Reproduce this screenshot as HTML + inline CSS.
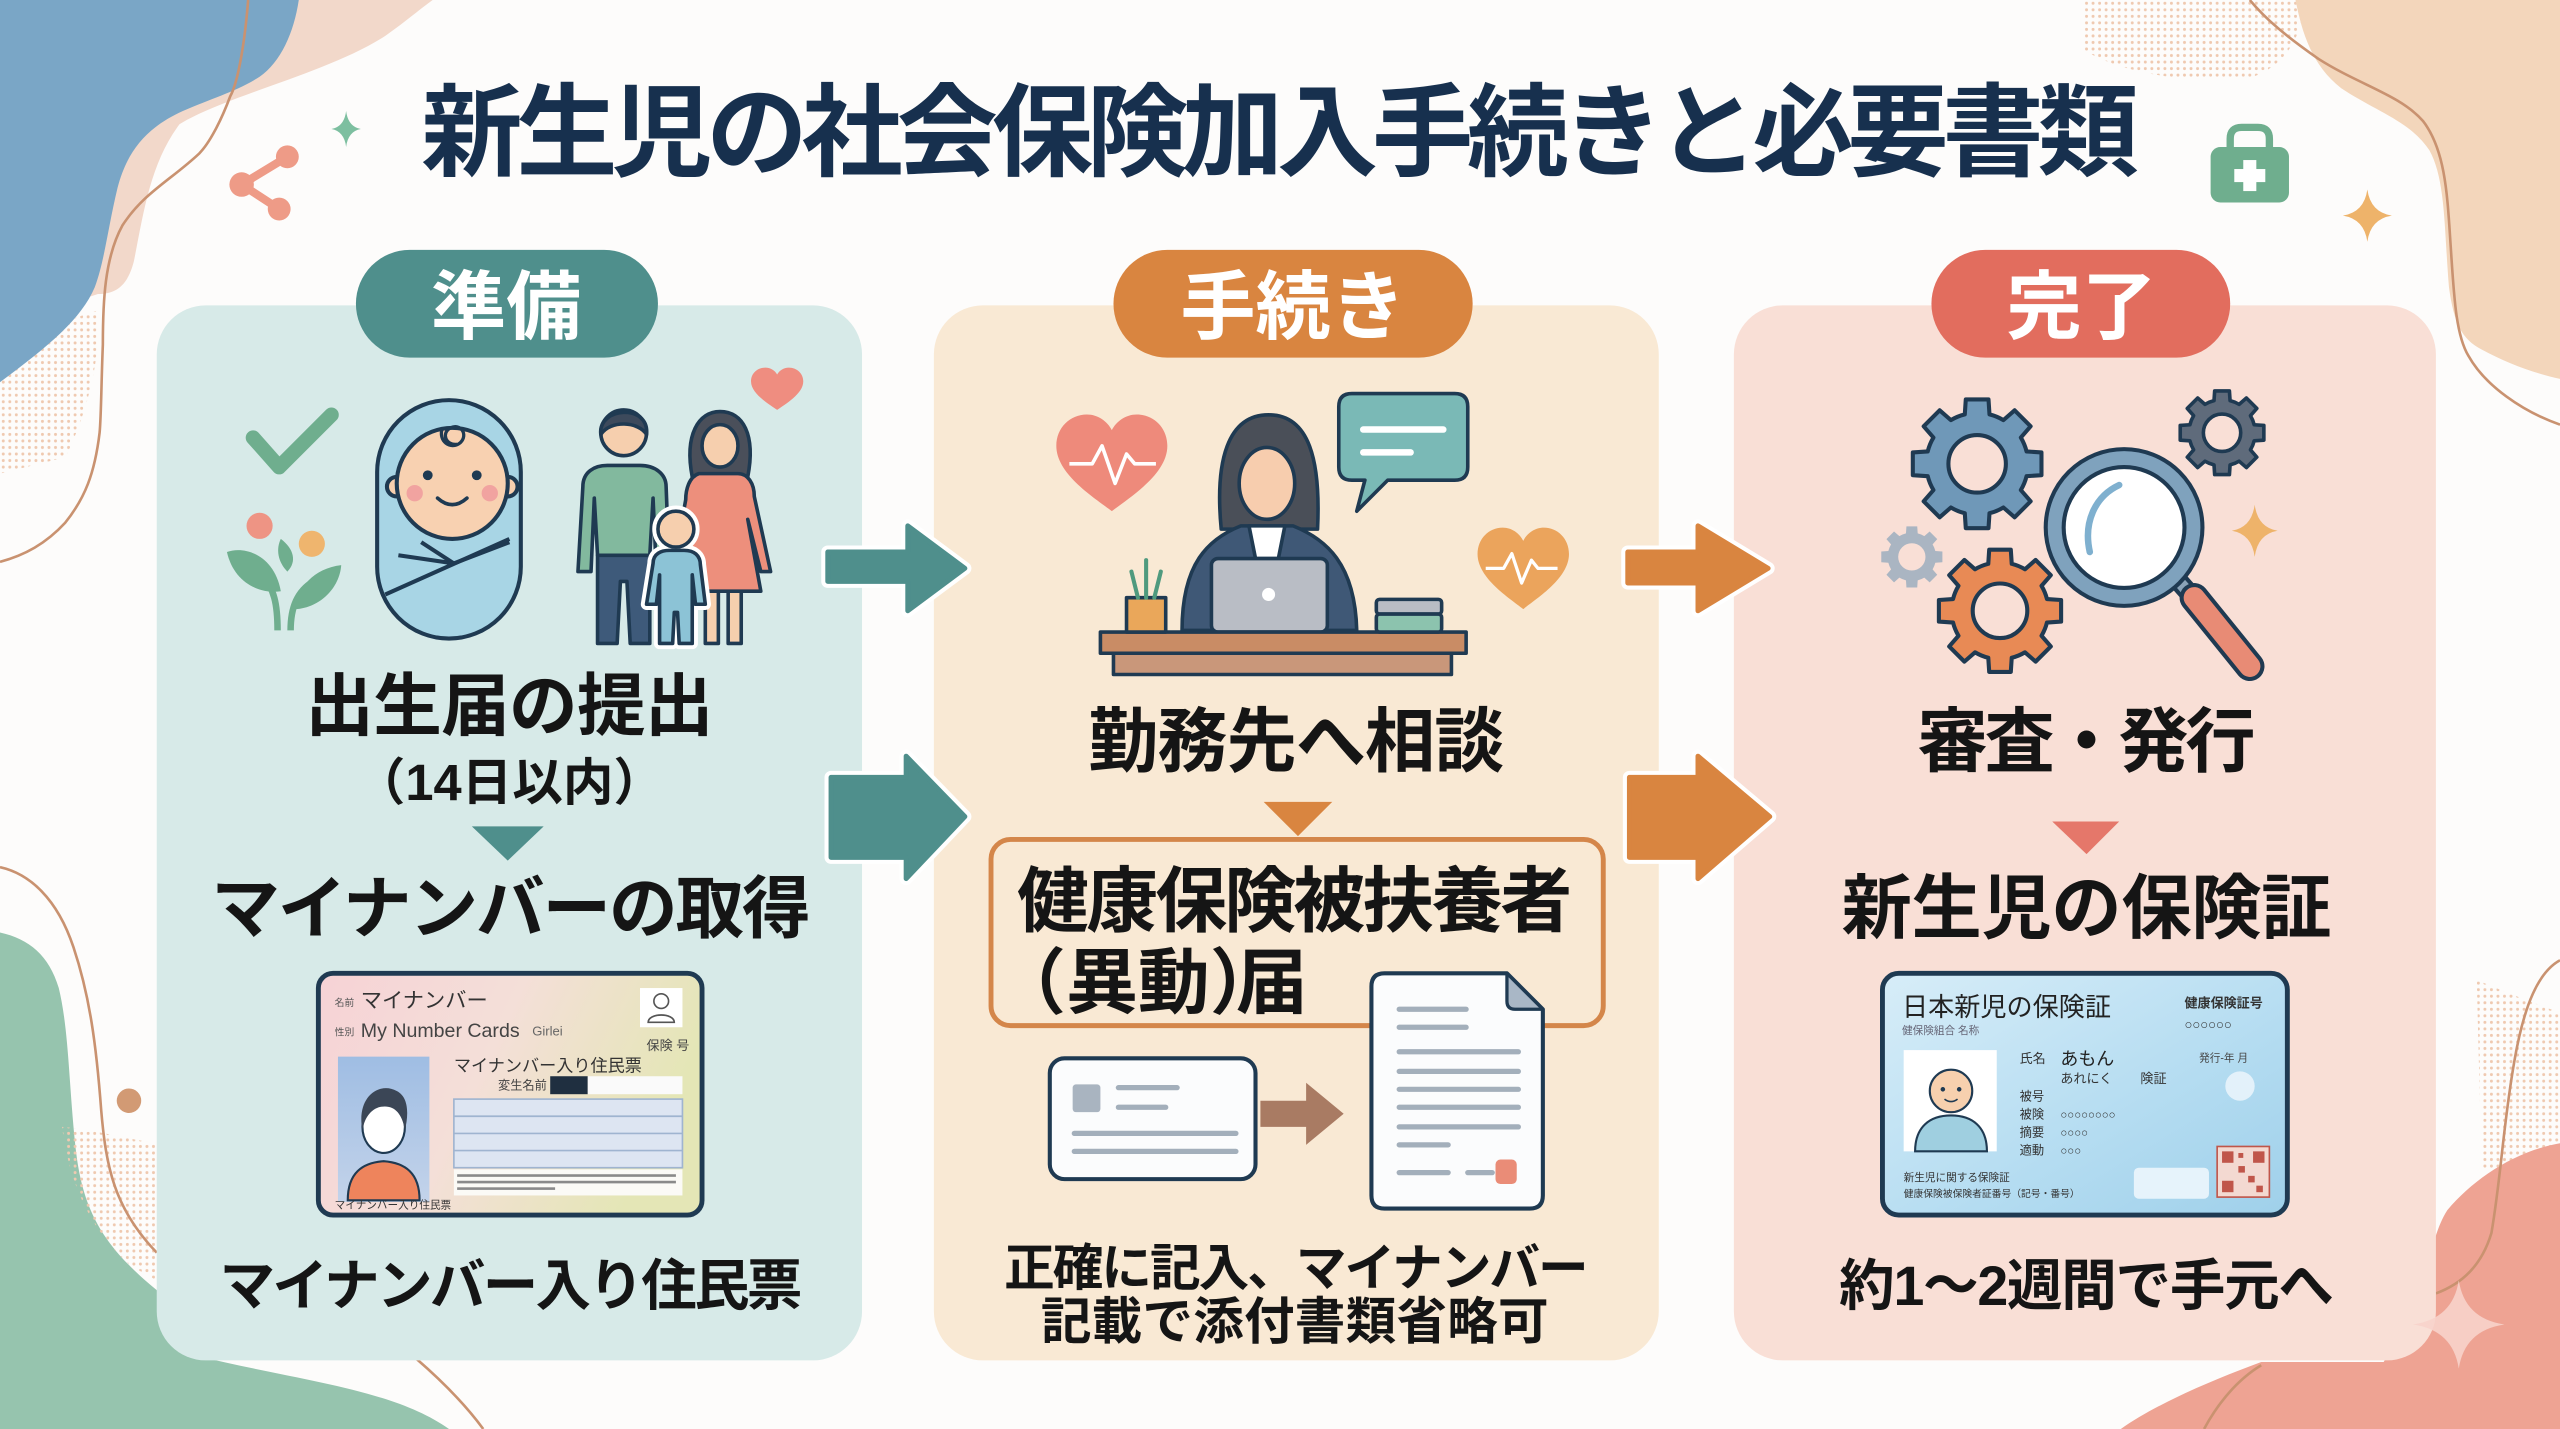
<!DOCTYPE html>
<html lang="ja">
<head>
<meta charset="utf-8">
<style>
html,body{margin:0;padding:0;background:#fdfcfb;}
svg{display:block;}
text{font-family:"Liberation Sans","Noto Sans CJK JP",sans-serif;}
.b{font-weight:700;fill:#151515;}
</style>
</head>
<body>
<svg width="2560" height="1429" viewBox="0 0 1568 875" preserveAspectRatio="none" xmlns="http://www.w3.org/2000/svg">
<defs>
  <pattern id="dots" width="4" height="4" patternUnits="userSpaceOnUse">
    <circle cx="2" cy="2" r="0.9" fill="#efc9b0"/>
  </pattern>
  <linearGradient id="mn" x1="0" y1="0" x2="1" y2="0.3">
    <stop offset="0" stop-color="#f6d2d6"/>
    <stop offset="0.5" stop-color="#f4dfd8"/>
    <stop offset="1" stop-color="#e4e6b6"/>
  </linearGradient>
  <linearGradient id="ph" x1="0" y1="0" x2="0" y2="1">
    <stop offset="0" stop-color="#9fbde3"/>
    <stop offset="1" stop-color="#c3d3ea"/>
  </linearGradient>
  <linearGradient id="hc" x1="0" y1="0" x2="1" y2="1">
    <stop offset="0" stop-color="#d7edf8"/>
    <stop offset="0.6" stop-color="#b4dcf1"/>
    <stop offset="1" stop-color="#9fd0ea"/>
  </linearGradient>
  <path id="gear" fill-rule="evenodd" d="M.757,-.189 L.985,-.174 L.985,.174 L.757,.189 A.78,.78 0 0 1 .669,.402 L.819,.574 L.574,.819 L.402,.669 A.78,.78 0 0 1 .189,.757 L.174,.985 L-.174,.985 L-.189,.757 A.78,.78 0 0 1 -.402,.669 L-.574,.819 L-.819,.574 L-.669,.402 A.78,.78 0 0 1 -.757,.189 L-.985,.174 L-.985,-.174 L-.757,-.189 A.78,.78 0 0 1 -.669,-.402 L-.819,-.574 L-.574,-.819 L-.402,-.669 A.78,.78 0 0 1 -.189,-.757 L-.174,-.985 L.174,-.985 L.189,-.757 A.78,.78 0 0 1 .402,-.669 L.574,-.819 L.819,-.574 L.669,-.402 A.78,.78 0 0 1 .757,-.189 Z M.44,0 A.44,.44 0 1 0 -.44,0 A.44,.44 0 1 0 .44,0 Z"/>
  <path id="heart" d="M0,1 C-0.3,0.75 -1,0.3 -1,-0.25 C-1,-0.6 -0.75,-0.85 -0.45,-0.85 C-0.25,-0.85 -0.08,-0.72 0,-0.55 C0.08,-0.72 0.25,-0.85 0.45,-0.85 C0.75,-0.85 1,-0.6 1,-0.25 C1,0.3 0.3,0.75 0,1 Z"/>
  <path id="spark" d="M0,-1 Q0.13,-0.13 1,0 Q0.13,0.13 0,1 Q-0.13,0.13 -1,0 Q-0.13,-0.13 0,-1 Z"/>
</defs>

<!-- background -->
<rect x="0" y="0" width="1568" height="875" fill="#fdfcfb"/>

<!-- top-left decoration -->
<path d="M0,200 L60,180 C70,180 78,176 82,160 C88,130 92,100 110,76 C140,58 200,45 236,22 C250,12 258,5 265,0 L0,0 Z" fill="#f2d8ca"/>
<path d="M0,210 L60,190 C62,215 55,250 40,280 L0,290 Z" fill="url(#dots)"/>
<path d="M0,0 H183 C180,20 172,38 159,47 C145,56 130,60 112,68 C90,78 78,92 72,115 C66,140 64,160 58,176 C50,195 30,212 0,234 Z" fill="#7aa6c6"/>
<path d="M152,0 C150,25 146,50 141,59 C135,75 128,88 122,94 C105,110 88,118 75,138 C64,158 63,185 63,211 C62,235 62,255 61,265 C58,290 52,305 40,320 C28,333 15,340 0,344" fill="none" stroke="#c99270" stroke-width="1.6"/>

<!-- top-right decoration -->
<path d="M1275,0 H1410 C1412,20 1400,40 1380,47 C1340,52 1300,45 1275,30 Z" fill="url(#dots)"/>
<path d="M1406,0 C1410,20 1416,40 1434,54 C1455,68 1476,74 1488,92 C1498,110 1497,140 1500,176 C1503,198 1508,208 1520,214 C1535,222 1550,228 1568,232 V0 Z" fill="#f3d6bb"/>
<path d="M1378,0 C1388,12 1400,22 1420,36 C1445,52 1470,58 1484,74 C1498,92 1499,120 1501,150 C1503,180 1504,205 1512,218 C1522,236 1545,252 1568,260" fill="none" stroke="#c99270" stroke-width="1.6"/>

<!-- bottom-left decoration -->
<path d="M0,571 C18,575 30,585 36,605 C42,630 42,660 46,700 C50,740 62,762 96,790 L120,830 C180,845 240,850 275,875 L0,875 Z" fill="#96c4ae"/>
<path d="M38,690 C42,720 52,750 80,775 L96,784 L96,700 C80,698 60,692 38,690 Z" fill="url(#dots)"/>
<path d="M0,531 C18,535 35,550 45,580 C55,610 59,640 62,680 C65,715 70,740 96,767" fill="none" stroke="#c99270" stroke-width="1.6"/>
<path d="M255,832 C270,845 285,860 296,875" fill="none" stroke="#c99270" stroke-width="1.6"/>
<circle cx="79" cy="674" r="7.5" fill="#d29a74"/>

<!-- bottom-right decoration -->
<path d="M1517,600 C1540,610 1568,620 1568,620 V716 L1520,716 Z" fill="url(#dots)"/>
<path d="M1568,700 C1540,705 1515,722 1499,741 C1490,755 1488,775 1480,800 L1460,834 C1420,834 1390,834 1385,834 C1355,845 1320,860 1299,875 H1568 Z" fill="#eea393"/>
<path d="M1568,588 C1555,595 1546,615 1540,650 C1533,690 1532,720 1526,755 C1520,775 1508,786 1492,792" fill="none" stroke="#c99270" stroke-width="1.6"/>
<path d="M1385,836 C1370,845 1358,860 1350,875" fill="none" stroke="#c99270" stroke-width="1.6"/>

<!-- small title decorations -->
<use href="#spark" transform="translate(212,79) scale(9,11)" fill="#7dbfa0"/>
<g stroke="#ee9b87" stroke-width="5" fill="#ee9b87">
  <line x1="176" y1="96" x2="148" y2="113"/>
  <line x1="148" y1="113" x2="171" y2="128"/>
  <circle cx="176" cy="96" r="7" stroke="none"/>
  <circle cx="148" cy="113" r="7.5" stroke="none"/>
  <circle cx="171" cy="128" r="7" stroke="none"/>
</g>
<path d="M1366,92 V85 Q1366,78 1373,78 H1383 Q1390,78 1390,85 V92" fill="none" stroke="#6fae8e" stroke-width="4.5"/>
<rect x="1354" y="90" width="48" height="34" rx="6" fill="#6fae8e"/>
<rect x="1374" y="98" width="8" height="19" fill="#fff"/>
<rect x="1368.5" y="103.5" width="19" height="8" fill="#fff"/>
<use href="#spark" transform="translate(1450,132) scale(15,16)" fill="#eeb36a"/>

<!-- Title -->
<text x="784" y="103" text-anchor="middle" font-size="62" font-weight="700" fill="#17304e" textLength="1052">新生児の社会保険加入手続きと必要書類</text>

<!-- Panels -->
<rect x="96" y="187" width="432" height="646" rx="30" fill="#d7eae8"/>
<rect x="572" y="187" width="444" height="646" rx="30" fill="#f9e9d4"/>
<rect x="1062" y="187" width="430" height="646" rx="30" fill="#f9dfd6"/>

<!-- Pills -->
<rect x="218" y="153" width="185" height="66" rx="33" fill="#4f8f8c"/>
<text x="310" y="204" text-anchor="middle" font-size="46" font-weight="700" fill="#fff">準備</text>
<rect x="682" y="153" width="220" height="66" rx="33" fill="#d98540"/>
<text x="792" y="204" text-anchor="middle" font-size="46" font-weight="700" fill="#fff">手続き</text>
<rect x="1183" y="153" width="183" height="66" rx="33" fill="#e26d5e"/>
<text x="1275" y="204" text-anchor="middle" font-size="46" font-weight="700" fill="#fff">完了</text>

<!-- ===== Panel 1 icons ===== -->
<polyline points="155,268 171,286 203,254" fill="none" stroke="#6fae8e" stroke-width="9" stroke-linecap="round" stroke-linejoin="round"/>
<circle cx="159" cy="322" r="8" fill="#ee9484"/>
<circle cx="191" cy="333" r="8" fill="#efb56e"/>
<g fill="#6fae8e">
  <path d="M170,386 C170,370 168,360 160,352" fill="none" stroke="#6fae8e" stroke-width="4"/>
  <path d="M178,386 C178,372 182,362 192,356" fill="none" stroke="#6fae8e" stroke-width="4"/>
  <path d="M139,338 C150,334 168,340 172,362 C158,364 143,356 139,338 Z"/>
  <path d="M209,346 C208,360 196,372 181,373 C182,360 192,348 209,346 Z"/>
  <path d="M172,330 C180,336 182,344 176,350 C170,344 169,336 172,330 Z"/>
</g>
<!-- baby -->
<g stroke="#1f3a52" stroke-width="2.5">
  <rect x="231" y="245" width="88" height="146" rx="44" fill="#a8d5e5"/>
  <circle cx="243" cy="298" r="6" fill="#f7cfae"/>
  <circle cx="311" cy="298" r="6" fill="#f7cfae"/>
  <circle cx="277" cy="296" r="34" fill="#f8d1b1"/>
  <path d="M244,340 L278,345 L312,332" fill="none"/>
  <path d="M236,364 L312,330" fill="none"/>
  <path d="M258,332 L278,345" fill="none"/>
  <path d="M280,272 C273,273 270,265 276,262 C282,259 287,266 282,271 C276,276 268,270 271,262" fill="none" stroke-width="2"/>
  <path d="M268,305 Q277,313 286,305" fill="none" stroke-width="2.2" stroke-linecap="round"/>
</g>
<circle cx="262" cy="291" r="3" fill="#1f3a52"/>
<circle cx="292" cy="291" r="3" fill="#1f3a52"/>
<circle cx="254" cy="302" r="5" fill="#f1a3a0"/>
<circle cx="300" cy="302" r="5" fill="#f1a3a0"/>
<!-- family -->
<g stroke="#1f3a52" stroke-width="2.2" stroke-linejoin="round">
  <path d="M357,298 C357,289 364,285 372,285 L392,285 C401,285 408,290 408,298 L410,350 L402,350 L400,305 L398,340 L366,340 L364,305 L362,350 L354,350 Z" fill="#82b99e"/>
  <path d="M366,340 L398,340 L398,394 L386,394 L384,356 L380,356 L378,394 L366,394 Z" fill="#3e5a7a"/>
  <circle cx="382" cy="265" r="14" fill="#f6cfae"/>
  <path d="M368,266 C366,249 398,247 396,266 C391,258 374,257 368,266 Z" fill="#3d4a5c"/>
  <path d="M424,292 C419,266 428,252 441,252 C455,252 463,266 458,292 Z" fill="#4a4f5a"/>
  <ellipse cx="441" cy="273" rx="11" ry="13" fill="#f6cfae"/>
  <rect x="432" y="360" width="8" height="34" fill="#f6cfae"/>
  <rect x="446" y="360" width="8" height="34" fill="#f6cfae"/>
  <path d="M428,290 C422,292 420,300 420,306 L412,350 L418,350 L424,318 L418,362 L466,362 L458,318 L466,350 L472,350 L462,304 C462,296 458,290 452,290 Z" fill="#ed8f7c"/>
  <g>
    <path d="M400,345 C400,339 405,337 410,337 L419,337 C425,337 429,340 429,346 L432,370 L426,370 L424,352 L424,394 L416,394 L415,375 L413,375 L412,394 L404,394 L404,352 L402,370 L396,370 Z" fill="#fff" stroke="#fff" stroke-width="7"/>
    <circle cx="414" cy="324" r="11" fill="#fff" stroke="#fff" stroke-width="7"/>
    <path d="M400,345 C400,339 405,337 410,337 L419,337 C425,337 429,340 429,346 L432,370 L426,370 L424,352 L424,394 L416,394 L415,375 L413,375 L412,394 L404,394 L404,352 L402,370 L396,370 Z" fill="#8cc3d6"/>
    <circle cx="414" cy="324" r="11" fill="#f6cfae"/>
  </g>
</g>
<use href="#heart" transform="translate(476,237) scale(16,14)" fill="#ef8d80"/>

<!-- Panel 1 texts -->
<text class="b" x="312" y="447" text-anchor="middle" font-size="42" textLength="250">出生届の提出</text>
<text class="b" x="312" y="490" text-anchor="middle" font-size="31">（14日以内）</text>
<polygon points="289,506 333,506 311,527" fill="#4f8f8c"/>
<text class="b" x="313" y="571" text-anchor="middle" font-size="42" textLength="367">マイナンバーの取得</text>

<!-- My number card -->
<rect x="195" y="596" width="235" height="148" rx="9" fill="url(#mn)" stroke="#1f3a52" stroke-width="3"/>
<text x="205" y="616" font-size="6" fill="#555">名前</text>
<text x="221" y="617" font-size="13" fill="#333">マイナンバー</text>
<text x="205" y="634" font-size="6" fill="#555">性別</text>
<text x="221" y="635" font-size="12" fill="#444" font-family="Liberation Serif, serif">My Number Cards</text>
<text x="326" y="634" font-size="8" fill="#666" font-family="Liberation Serif, serif">Girlei</text>
<rect x="392" y="605" width="26" height="24" fill="#fff"/>
<circle cx="405" cy="613" r="4.5" fill="none" stroke="#555" stroke-width="1"/>
<path d="M397,626 C397,620 413,620 413,626 Z" fill="none" stroke="#555" stroke-width="1"/>
<text x="396" y="643" font-size="8" fill="#444">保険 号</text>
<text x="278" y="656" font-size="10.5" fill="#333">マイナンバー入り住民票</text>
<text x="305" y="667" font-size="7.5" fill="#444">変生名前</text>
<rect x="337" y="659" width="23" height="11" fill="#1f2f40"/>
<rect x="360" y="659" width="58" height="11" fill="#fafafa"/>
<rect x="207" y="647" width="56" height="89" fill="url(#ph)"/>
<path d="M213,735 C213,718 222,712 235,711 C248,712 257,718 257,735 Z" fill="#ee845c" stroke="#1f3a52" stroke-width="1.3"/>
<ellipse cx="235" cy="690" rx="13" ry="16" fill="#fff" stroke="#1f3a52" stroke-width="1.3"/>
<path d="M222,692 C218,672 232,662 243,668 C251,672 250,684 248,692 C246,680 240,676 232,678 C226,680 223,686 222,692 Z" fill="#3b4656"/>
<rect x="278" y="673" width="140" height="42" fill="#dde5f2" stroke="#9fb4d0" stroke-width="1"/>
<line x1="278" y1="683.5" x2="418" y2="683.5" stroke="#9fb4d0" stroke-width="1"/>
<line x1="278" y1="694" x2="418" y2="694" stroke="#9fb4d0" stroke-width="1"/>
<line x1="278" y1="704.5" x2="418" y2="704.5" stroke="#9fb4d0" stroke-width="1"/>
<rect x="278" y="716" width="140" height="16" fill="#fbfaf6"/>
<rect x="280" y="719" width="134" height="1.6" fill="#8a8a8a"/>
<rect x="280" y="723" width="134" height="1.6" fill="#8a8a8a"/>
<rect x="280" y="727" width="60" height="1.6" fill="#8a8a8a"/>
<text x="205" y="740" font-size="6.5" fill="#333">マイナンバー入り住民票</text>

<text class="b" x="313" y="799" text-anchor="middle" font-size="34" textLength="357">マイナンバー入り住民票</text>

<!-- ===== Panel 2 icons ===== -->
<use href="#heart" transform="translate(681,281) scale(34,32)" fill="#ee8a7b"/>
<polyline points="655,284 669,284 675,273 683,296 690,278 695,284 708,284" fill="none" stroke="#fff" stroke-width="2.2" stroke-linejoin="round"/>
<use href="#heart" transform="translate(933,346) scale(28,27)" fill="#eba45c"/>
<polyline points="910,348 921,348 926,339 932,357 938,343 942,348 954,348" fill="none" stroke="#fff" stroke-width="2" stroke-linejoin="round"/>
<g stroke="#1f3a52" stroke-width="2.2" stroke-linejoin="round">
  <path d="M820,249 Q820,241 828,241 H891 Q899,241 899,249 V286 Q899,294 891,294 H850 L831,313 L836,294 H828 Q820,294 820,286 Z" fill="#7ab9b6"/>
  <path d="M748,324 C744,282 752,254 777,254 C802,254 809,282 807,324 Z" fill="#4a4f58"/>
  <ellipse cx="776" cy="296" rx="17" ry="22" fill="#f7cdae"/>
  <path d="M724,386 C724,345 740,330 760,322 L792,322 C812,330 830,345 831,386 Z" fill="#3f5876"/>
  <path d="M765,322 L787,322 L783,342 L769,342 Z" fill="#fff"/>
  <rect x="742" y="342" width="71" height="45" rx="4" fill="#b9bdc5"/>
  <rect x="674" y="387" width="224" height="13" fill="#c98c65"/>
  <rect x="682" y="400" width="207" height="13" fill="#c9977a"/>
  <rect x="690" y="366" width="24" height="21" fill="#eaa75a"/>
  <rect x="843" y="367" width="40" height="9" rx="2" fill="#b9bcc4"/>
  <rect x="843" y="376" width="40" height="11" rx="2" fill="#8cc3ae"/>
</g>
<circle cx="777" cy="364" r="4" fill="#fff"/>
<line x1="835" y1="263" x2="884" y2="263" stroke="#fff" stroke-width="4" stroke-linecap="round"/>
<line x1="835" y1="277" x2="864" y2="277" stroke="#fff" stroke-width="4" stroke-linecap="round"/>
<g stroke="#4f9a7e" stroke-width="2.5" stroke-linecap="round">
  <line x1="702" y1="366" x2="702" y2="343"/>
  <line x1="697" y1="366" x2="693" y2="350"/>
  <line x1="707" y1="366" x2="711" y2="350"/>
</g>

<text class="b" x="794" y="469" text-anchor="middle" font-size="43" textLength="255">勤務先へ相談</text>
<polygon points="774,491 816,491 795,512" fill="#d98540"/>
<rect x="607" y="514" width="375" height="114" rx="12" fill="none" stroke="#d4864a" stroke-width="3"/>
<text class="b" x="623" y="567" font-size="44" textLength="340">健康保険被扶養者</text>
<text class="b" x="609" y="617" font-size="44">（異動）</text>
<text class="b" x="757" y="617" font-size="44">届</text>

<!-- document -->
<path d="M840,604 Q840,596 848,596 H923 L945,618 V732 Q945,740 937,740 H848 Q840,740 840,732 Z" fill="#fbfcfd" stroke="#1f3a52" stroke-width="2.5" stroke-linejoin="round"/>
<path d="M923,596 V613 Q923,618 928,618 H945 Z" fill="#a9b7c6" stroke="#1f3a52" stroke-width="2" stroke-linejoin="round"/>
<g stroke="#a3afbb" stroke-width="3.2" stroke-linecap="round">
  <line x1="857" y1="618" x2="898" y2="618"/>
  <line x1="857" y1="629" x2="898" y2="629"/>
  <line x1="857" y1="644" x2="930" y2="644"/>
  <line x1="857" y1="656" x2="930" y2="656"/>
  <line x1="857" y1="667" x2="930" y2="667"/>
  <line x1="857" y1="678" x2="930" y2="678"/>
  <line x1="857" y1="690" x2="930" y2="690"/>
  <line x1="857" y1="701" x2="887" y2="701"/>
  <line x1="857" y1="718" x2="887" y2="718"/>
  <line x1="899" y1="718" x2="914" y2="718"/>
</g>
<rect x="916" y="710" width="13" height="15" rx="3" fill="#ea8c77"/>
<!-- small card + arrow -->
<rect x="643" y="648" width="126" height="74" rx="9" fill="#fbfcfd" stroke="#1f3a52" stroke-width="2.5"/>
<rect x="657" y="664" width="17" height="17" rx="2" fill="#a9b4c0"/>
<g stroke="#a3afbb" stroke-width="3.2" stroke-linecap="round">
  <line x1="685" y1="666" x2="721" y2="666"/>
  <line x1="685" y1="678" x2="714" y2="678"/>
  <line x1="658" y1="694" x2="757" y2="694"/>
  <line x1="658" y1="705" x2="757" y2="705"/>
</g>
<path d="M772,674 H800 V663 L823,682 L800,701 V690 H772 Z" fill="#a97b63"/>

<text class="b" x="794" y="787" text-anchor="middle" font-size="31" textLength="358">正確に記入、マイナンバー</text>
<text class="b" x="793" y="820" text-anchor="middle" font-size="31" textLength="311">記載で添付書類省略可</text>

<!-- ===== Panel 3 icons ===== -->
<use href="#gear" transform="translate(1211,284) scale(40)" fill="#6f98b8" stroke="#1f3a52" stroke-width="0.0625" stroke-linejoin="round"/>
<use href="#gear" transform="translate(1361,265) scale(26)" fill="#5f6b7b" stroke="#1f3a52" stroke-width="0.085" stroke-linejoin="round"/>
<use href="#gear" transform="translate(1171,341) scale(19)" fill="#aab5c2"/>
<use href="#gear" transform="translate(1225,374) scale(38)" fill="#e88a55" stroke="#1f3a52" stroke-width="0.066" stroke-linejoin="round"/>
<g stroke="#1f3a52" stroke-width="2.5">
  <path d="M1331,352 L1346,369" stroke-width="12" stroke="#1f3a52"/>
  <path d="M1331,352 L1346,369" stroke-width="7" stroke="#8aa3b8"/>
  <path d="M1344,366 L1378,408" stroke-width="18" stroke-linecap="round" stroke="#1f3a52"/>
  <path d="M1344,366 L1378,408" stroke-width="13" stroke-linecap="round" stroke="#e88b75"/>
  <circle cx="1301" cy="323" r="48" fill="#7fa2bd"/>
  <circle cx="1301" cy="323" r="37" fill="#fff"/>
  <path d="M1280,338 C1276,320 1283,304 1298,297" fill="none" stroke="#7fb0cf" stroke-width="4" stroke-linecap="round"/>
</g>
<use href="#spark" transform="translate(1381,325) scale(14,16)" fill="#eeb36a"/>

<text class="b" x="1278" y="469" text-anchor="middle" font-size="43" textLength="207">審査・発行</text>
<polygon points="1257,503 1298,503 1278,523" fill="#e5776a"/>
<text class="b" x="1278" y="571" text-anchor="middle" font-size="43" textLength="300">新生児の保険証</text>

<!-- insurance card -->
<rect x="1153" y="596" width="248" height="148" rx="10" fill="url(#hc)" stroke="#1f3a52" stroke-width="3"/>
<text x="1165" y="622" font-size="16" fill="#222" textLength="128">日本新児の保険証</text>
<text x="1165" y="633" font-size="6.5" fill="#667">健保険組合 名称</text>
<text x="1338" y="617" font-size="8" fill="#333" font-weight="700">健康保険証号</text>
<text x="1338" y="630" font-size="8" fill="#333">○○○○○○</text>
<rect x="1166" y="643" width="57" height="62" fill="#fff"/>
<path d="M1173,705 C1173,690 1182,683 1195,683 C1208,683 1217,690 1217,705 Z" fill="#9fcfe0" stroke="#1f3a52" stroke-width="1.3"/>
<circle cx="1195" cy="668" r="13" fill="#f7d0ae" stroke="#1f3a52" stroke-width="1.3"/>
<circle cx="1190" cy="667" r="1.4" fill="#1f3a52"/>
<circle cx="1200" cy="667" r="1.4" fill="#1f3a52"/>
<path d="M1191,673 Q1195,676 1199,673" fill="none" stroke="#1f3a52" stroke-width="1"/>
<text x="1237" y="651" font-size="8" fill="#333">氏名</text>
<text x="1262" y="652" font-size="11" fill="#222">あもん</text>
<text x="1262" y="663" font-size="8" fill="#333">あれにく</text>
<text x="1311" y="663" font-size="8" fill="#333">険証</text>
<text x="1237" y="674" font-size="7.5" fill="#333">被号</text>
<text x="1237" y="685" font-size="7.5" fill="#333">被険</text>
<text x="1262" y="685" font-size="7" fill="#333">○○○○○○○○</text>
<text x="1237" y="696" font-size="7.5" fill="#333">摘要</text>
<text x="1262" y="696" font-size="7" fill="#333">○○○○</text>
<text x="1237" y="707" font-size="7.5" fill="#333">適動</text>
<text x="1262" y="707" font-size="7" fill="#333">○○○</text>
<text x="1347" y="650" font-size="6.5" fill="#444">発行-年 月</text>
<circle cx="1372" cy="665" r="9" fill="#e3f1fa"/>
<rect x="1307" y="715" width="46" height="19" rx="3" fill="#e6f3fb"/>
<rect x="1358" y="702" width="32" height="31" fill="#f3d9d1" stroke="#c0564a" stroke-width="1"/>
<g fill="#c0564a">
  <rect x="1361" y="705" width="7" height="7"/>
  <rect x="1380" y="705" width="7" height="7"/>
  <rect x="1361" y="723" width="7" height="7"/>
  <rect x="1371" y="714" width="4" height="4"/>
  <rect x="1377" y="720" width="4" height="4"/>
  <rect x="1382" y="726" width="4" height="4"/>
  <rect x="1371" y="706" width="3" height="3"/>
</g>
<text x="1166" y="723" font-size="6.5" fill="#333">新生児に関する保険証</text>
<text x="1166" y="733" font-size="6" fill="#333">健康保険被保険者証番号（記号・番号）</text>

<text class="b" x="1278" y="799" text-anchor="middle" font-size="34" textLength="303">約1〜2週間で手元へ</text>

<!-- bottom-right sparkle -->
<use href="#spark" transform="translate(1506,811) scale(28,27)" fill="#f7d3cb" opacity="0.9"/>

<!-- ===== Arrows ===== -->
<g stroke-linejoin="round">
  <path d="M507,338 H556 V322 L591,348 L556,374 V356 H507 Z" fill="#fff" stroke="#fff" stroke-width="8"/>
  <path d="M507,338 H556 V322 L591,348 L556,374 V356 H507 Z" fill="#4f8f8c" stroke="#4f8f8c" stroke-width="3"/>
  <path d="M509,476 H555 V463 L591,500 L555,538 V525 H509 Z" fill="#fff" stroke="#fff" stroke-width="8"/>
  <path d="M509,476 H555 V463 L591,500 L555,538 V525 H509 Z" fill="#4f8f8c" stroke="#4f8f8c" stroke-width="3"/>
  <path d="M997,338 H1040 V322 L1083,348 L1040,374 V357 H997 Z" fill="#fff" stroke="#fff" stroke-width="8"/>
  <path d="M997,338 H1040 V322 L1083,348 L1040,374 V357 H997 Z" fill="#d98540" stroke="#d98540" stroke-width="3"/>
  <path d="M998,476 H1040 V463 L1084,500 L1040,538 V525 H998 Z" fill="#fff" stroke="#fff" stroke-width="8"/>
  <path d="M998,476 H1040 V463 L1084,500 L1040,538 V525 H998 Z" fill="#d98540" stroke="#d98540" stroke-width="3"/>
</g>
</svg>
</body>
</html>
